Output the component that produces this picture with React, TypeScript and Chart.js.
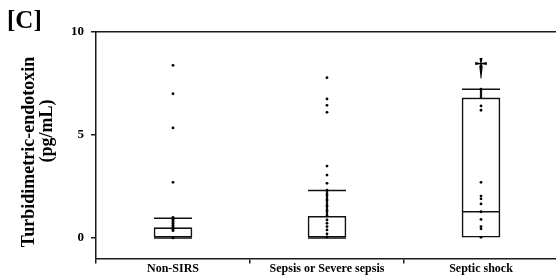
import React, { useEffect, useRef } from 'react';
import { Chart, registerables } from 'chart.js';

Chart.register(...registerables);

const categories = ['Non-SIRS', 'Sepsis or Severe sepsis', 'Septic shock'];
const yTicks = [0, 5, 10];
const boxLow = [0, 0, 0];
const boxHigh = [0.5, 1.05, 6.8];
const medians = [0, 0, 1.27];
const whiskerHigh = [0.95, 2.3, 7.22];
const nonSirsPoints = [8.38, 7.0, 5.34, 2.7, 1.0, 0.9, 0.8, 0.7, 0.6, 0.5, 0.42, 0.35, 0];
const sepsisPoints = [7.78, 6.75, 6.44, 6.1, 3.49, 3.05, 2.65, 2.32, 2.08, 1.84, 1.55, 1.31, 1.07, 0.87, 0.71, 0.55, 0.39, 0.2, 0.05];
const septicShockPoints = [7.22, 6.41, 6.2, 2.7, 2.03, 1.9, 1.65, 1.27, 0.9, 0.55, 0.44, 0.03];
const panelLabel = '[C]';
const yTitleLines = ['Turbidimetric-endotoxin', '(pg/mL)'];
const significanceMark = '†';
const markedGroup = 2;

const FONT = "'Liberation Serif', 'Times New Roman', serif";
const AXIS = '#1a1a1a';

const textPlugin = {
  id: 'panelTexts',
  afterDraw(chart: any) {
    const ctx = chart.ctx as CanvasRenderingContext2D;
    const xs = chart.scales.x;
    const ys = chart.scales.y;
    ctx.save();
    ctx.fillStyle = '#000';
    // panel label
    ctx.font = `bold 25px ${FONT}`;
    ctx.textAlign = 'left';
    ctx.textBaseline = 'alphabetic';
    ctx.fillText(panelLabel, 7, 28);
    // y title (two rotated lines)
    ctx.font = `bold 18px ${FONT}`;
    ctx.textAlign = 'center';
    ctx.textBaseline = 'middle';
    const linePos = [
      [29, 152],
      [47.5, 131],
    ];
    yTitleLines.forEach((line, i) => {
      ctx.save();
      ctx.translate(linePos[i][0], linePos[i][1]);
      ctx.rotate(-Math.PI / 2);
      ctx.fillText(line, 0, 0);
      ctx.restore();
    });
    // significance dagger
    ctx.font = `bold 26px ${FONT}`;
    ctx.textAlign = 'center';
    ctx.textBaseline = 'alphabetic';
    const dx = xs.getPixelForValue(markedGroup);
    const dy = ys.getPixelForValue(whiskerHigh[markedGroup]) - 13;
    ctx.fillText(significanceMark, dx, dy);
    ctx.restore();
  },
};

export default function App() {
  const ref = useRef<HTMLCanvasElement | null>(null);

  useEffect(() => {
    if (!ref.current) return;
    const groups = [nonSirsPoints, sepsisPoints, septicShockPoints];
    const dots = groups.flatMap((vals, i) => vals.map((v) => ({ x: categories[i], y: v })));
    const caps = categories.map((c, i) => ({ x: c, y: whiskerHigh[i] }));
    const meds = categories.map((c, i) => ({ x: c, y: medians[i] }));

    const chart = new Chart(ref.current, {
      type: 'bar',
      data: {
        labels: categories,
        datasets: [
          {
            type: 'scatter',
            label: 'values',
            data: dots,
            pointRadius: 1.4,
            pointBackgroundColor: '#000',
            pointBorderWidth: 0,
            order: 0,
          } as any,
          {
            type: 'scatter',
            label: 'median',
            data: meds,
            pointStyle: 'line',
            pointRadius: 19,
            pointBorderColor: '#111',
            pointBorderWidth: 1.5,
            order: 1,
          } as any,
          {
            type: 'scatter',
            label: 'cap',
            data: caps,
            pointStyle: 'line',
            pointRadius: 19,
            pointBorderColor: '#111',
            pointBorderWidth: 1.5,
            order: 2,
          } as any,
          {
            type: 'bar',
            label: 'whisker',
            data: categories.map((_, i) => [boxHigh[i], whiskerHigh[i]]),
            backgroundColor: '#111',
            borderWidth: 0,
            barThickness: 1.6,
            grouped: false,
            order: 3,
          } as any,
          {
            type: 'bar',
            label: 'box',
            data: categories.map((_, i) => [boxLow[i], boxHigh[i]]),
            backgroundColor: '#fff',
            borderColor: '#111',
            borderWidth: 1.6,
            borderSkipped: false,
            barThickness: 38,
            grouped: false,
            order: 4,
          } as any,
        ],
      },
      options: {
        animation: false,
        responsive: false,
        events: [],
        layout: { autoPadding: false, padding: { left: 0, top: 32, right: 2, bottom: 0 } },
        plugins: {
          legend: { display: false },
          tooltip: { enabled: false },
          title: { display: false },
        },
        scales: {
          x: {
            type: 'category',
            labels: categories,
            position: 'bottom',
            offset: true,
            grid: {
              offset: true,
              drawOnChartArea: false,
              drawTicks: true,
              tickLength: 5,
              color: AXIS,
              lineWidth: 1.5,
            },
            border: { display: true, color: AXIS, width: 1.5 },
            ticks: {
              color: '#000',
              font: { family: FONT, size: 12, weight: 'bold', lineHeight: 0.95 },
              padding: 0,
              maxRotation: 0,
              autoSkip: false,
            },
            afterFit: (s: any) => {
              s.height = 17.5;
            },
          },
          xTop: {
            type: 'category',
            labels: categories,
            position: 'top',
            offset: true,
            grid: { display: true, drawOnChartArea: false, drawTicks: false },
            ticks: { display: false },
            border: { display: true, color: AXIS, width: 1.5 },
          },
          y: {
            type: 'linear',
            min: -1,
            max: 10,
            afterBuildTicks: (s: any) => {
              s.ticks = yTicks.map((v) => ({ value: v }));
            },
            grid: {
              drawOnChartArea: false,
              drawTicks: true,
              tickLength: 5,
              color: AXIS,
              lineWidth: 1.5,
            },
            border: { display: true, color: AXIS, width: 1.5 },
            ticks: {
              color: '#000',
              font: { family: FONT, size: 13, weight: 'bold' },
              padding: 7,
            },
            afterFit: (s: any) => {
              s.width = 96;
            },
          },
        } as any,
      },
      plugins: [textPlugin],
    });
    return () => chart.destroy();
  }, []);

  return (
    <div
      style={{
        position: 'fixed',
        left: 0,
        top: 0,
        width: 556,
        height: 276,
        overflow: 'hidden',
        background: '#fff',
      }}
    >
      <canvas ref={ref} width={560} height={276} style={{ display: 'block' }} />
    </div>
  );
}
